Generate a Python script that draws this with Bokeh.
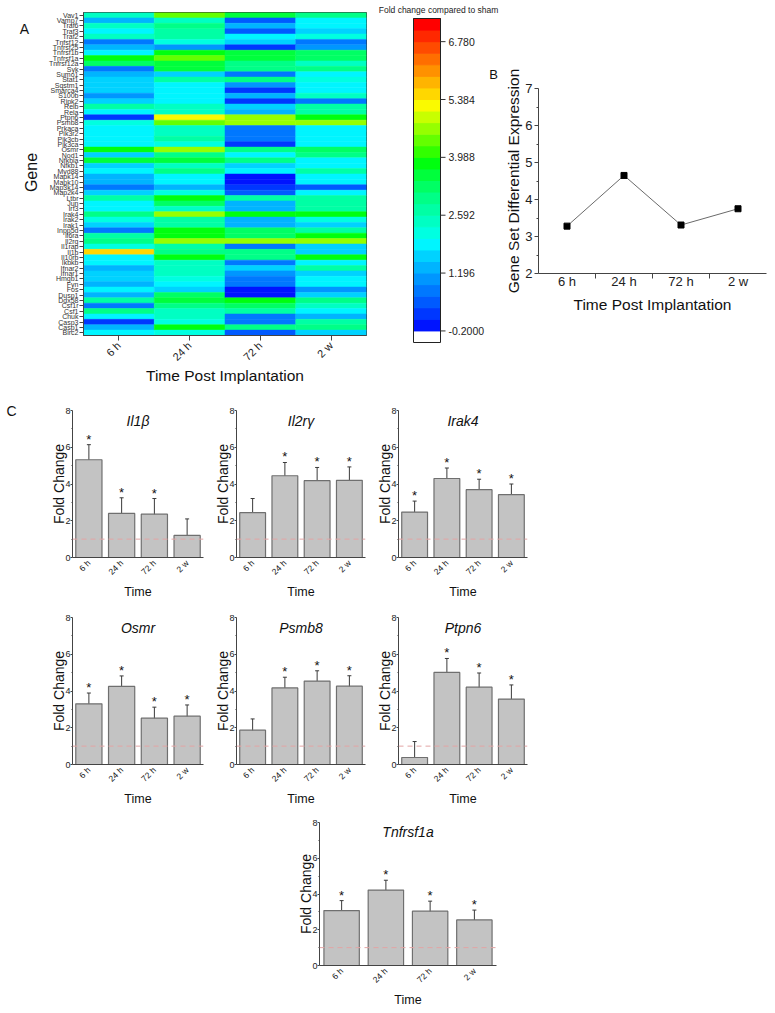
import math
from bokeh.plotting import figure
from bokeh.models import (FactorRange, LinearColorMapper, ColumnDataSource, Label, Span,
                          Whisker, TeeHead, FixedTicker, Range1d, Spacer)
from bokeh.transform import transform
from bokeh.layouts import row, column
from bokeh.embed import file_html
from bokeh.resources import INLINE
from bokeh.core.properties import value

FONT = "Liberation Sans"
NARROW = "Liberation Sans Narrow, Liberation Sans"

# ---------------- data ----------------
times = ["6 h", "24 h", "72 h", "2 w"]

genes = ["Vav1", "Vamp7", "Traf6", "Traf3", "Traf2", "Tnfsf12", "Tnfrsf25", "Tnfrsf1b", "Tnfrsf1a",
         "Tnfrsf12a", "Syk", "Sumo1", "Stat1", "Sqstm1", "Smarca4", "S100b", "Ripk2", "Relb", "Rela",
         "Ptpn6", "Psmb8", "Prkaca", "Pik3r2", "Pik3cb", "Pik3ca", "Osmr", "Nod1", "Nfkbia", "Nfkb1",
         "Myd88", "Mapk14", "Mapk10", "Map3k14", "Map2k4", "Ltbr", "Jun", "Irf3", "Irak4", "Irak2",
         "Irak1", "Inpp5d", "Il6ra", "Il2rg", "Il1rap", "Il1b", "Il10rb", "Ikbkb", "Ifnar2", "Ifnar1",
         "Hmgb1", "Fyn", "Fos", "Dusp1", "Ddx58", "Csf1r", "Csf1", "Chuk", "Casp3", "Casp1", "Birc2"]

hm_6h = [2.45, 1.34, 2.45, 1.89, 2.45, 0.78, 1.34, 1.89, 3.85, 3.29, 0.78, 1.34, 1.62, 1.62, 1.62, 1.06,
         1.62, 2.73, 1.89, 0.22, 2.17, 1.89, 1.89, 1.89, 1.89, 3.85, 1.62, 3.57, 1.62, 1.89, 1.34, 1.34,
         0.78, 1.62, 2.73, 1.89, 1.89, 3.01, 2.17, 1.62, 0.78, 2.73, 3.01, 2.17, 5.52, 1.89, 1.89, 1.34,
         1.62, 1.62, 1.34, 1.89, 1.34, 2.73, 0.78, 3.01, 1.89, 0.22, 1.34, 1.89]
hm_24h = [4.41, 2.45, 3.01, 2.73, 2.73, 2.17, 1.06, 3.85, 4.41, 3.57, 3.57, 1.62, 2.73, 1.89, 1.89, 1.89,
          1.89, 2.45, 2.45, 5.24, 4.41, 2.45, 2.45, 2.73, 2.17, 4.69, 3.01, 3.57, 2.45, 3.01, 1.89, 1.89,
          1.34, 2.17, 3.85, 3.29, 2.45, 4.69, 2.73, 2.73, 3.85, 3.85, 4.69, 2.73, 3.01, 3.85, 2.45, 2.45,
          2.45, 2.17, 1.89, 1.62, 3.29, 3.57, 3.01, 2.45, 2.45, 2.17, 3.85, 2.17]
hm_72h = [3.57, 0.50, 1.34, 0.50, 1.89, 1.62, 0.22, 3.57, 3.57, 3.01, 3.01, 0.78, 3.01, 1.06, 0.22, 1.34,
          0.22, 1.62, 1.34, 4.69, 4.69, 0.78, 0.78, 0.78, 0.22, 3.01, 1.89, 3.01, 1.62, 1.89, -0.06, -0.06,
          0.22, 0.50, 2.73, 1.34, 1.34, 3.85, 1.34, 1.34, 3.29, 3.29, 4.69, 0.78, 3.01, 3.01, 0.78, 1.62,
          1.06, 0.78, 0.78, -0.06, -0.06, 3.85, 3.29, 2.73, 0.78, 0.78, 3.01, 0.50]
hm_2w = [3.01, 1.89, 1.89, 1.62, 2.17, 0.78, 1.06, 3.29, 3.29, 2.45, 3.01, 1.89, 2.17, 1.89, 1.89, 2.45,
         0.78, 2.73, 2.73, 3.85, 4.69, 1.89, 1.89, 1.89, 1.89, 3.29, 3.01, 1.89, 1.89, 2.73, 1.89, 1.89,
         0.50, 1.89, 2.73, 2.73, 2.73, 3.85, 2.17, 1.62, 2.73, 3.85, 4.69, 1.62, 1.62, 3.85, 1.89, 2.73,
         1.62, 1.89, 1.89, 1.06, 1.62, 3.01, 2.45, 1.89, 1.34, 2.73, 3.01, 1.62]

cb_ticks = [-0.2, 1.196, 2.592, 3.988, 5.384, 6.780]
cb_labels = ["-0.2000", "1.196", "2.592", "3.988", "5.384", "6.780"]
palette = ["#0014ff", "#0037ff", "#005aff", "#0078ff", "#0096ff", "#00b4ff", "#00d2ff", "#00f5ff",
           "#00ffe1", "#00ffc3", "#00ffa5", "#00ff87", "#00ff64", "#00ff3c", "#00ff0f", "#32ff00",
           "#64ff00", "#96ff00", "#c8ff00", "#fafa00", "#ffd700", "#ffb400", "#ff9100", "#ff6e00",
           "#ff4b00", "#ff2800", "#ff0000"]

gsde = [3.28, 4.65, 3.31, 3.75]

bar_names = ["Il1\u03b2", "Il2r\u03b3", "Irak4", "Osmr", "Psmb8", "Ptpn6", "Tnfrsf1a"]
bar_means = [[5.32, 2.40, 2.36, 1.20],
             [2.44, 4.45, 4.18, 4.20],
             [2.47, 4.30, 3.69, 3.42],
             [3.30, 4.25, 2.52, 2.63],
             [1.87, 4.17, 4.54, 4.26],
             [0.38, 5.01, 4.21, 3.56],
             [3.07, 4.22, 3.04, 2.55]]
bar_errs = [[0.82, 0.85, 0.85, 0.90],
            [0.77, 0.72, 0.72, 0.73],
            [0.60, 0.57, 0.57, 0.58],
            [0.59, 0.57, 0.60, 0.61],
            [0.61, 0.58, 0.56, 0.57],
            [0.87, 0.76, 0.77, 0.77],
            [0.56, 0.55, 0.56, 0.55]]
bar_sig = [[1, 1, 1, 0],
           [0, 1, 1, 1],
           [1, 1, 1, 1],
           [1, 1, 1, 1],
           [0, 1, 1, 1],
           [0, 1, 1, 1],
           [1, 1, 1, 1]]
sham_level = 1.0


def style_axes(p, tick_size="10px", tick_font=FONT):
    for ax in p.axis:
        ax.major_label_text_font = tick_font
        ax.axis_label_text_font = FONT
        ax.axis_label_text_font_style = "normal"
        ax.major_label_text_font_size = tick_size
        ax.major_label_text_color = "#222222"
        ax.axis_label_text_color = "#111111"
        ax.axis_line_color = "#444444"
        ax.major_tick_line_color = "#444444"
        ax.minor_tick_line_color = "#444444"
    p.xgrid.grid_line_color = None
    p.ygrid.grid_line_color = None


def text_fig(width, height):
    """A bare figure used only to carry free text (panel letters etc.)."""
    p = figure(width=width, height=height, x_range=Range1d(0, width), y_range=Range1d(height, 0),
               output_backend="svg", toolbar_location=None, x_axis_location=None,
               y_axis_location=None, min_border_left=0, min_border_right=0, min_border_top=0,
               min_border_bottom=0, frame_align=False)
    p.outline_line_color = None
    p.xgrid.visible = False
    p.ygrid.visible = False
    return p


# ---------------- left text column of panel A ----------------
tA = text_fig(42, 390)
tA.add_layout(Label(x=24, y=28, text="A", text_font=FONT, text_font_size="14px", text_color="#111111",
                    text_align="center", text_baseline="middle"))
tA.add_layout(Label(x=31, y=172, text="Gene", text_font=FONT, text_font_size="16px",
                    text_color="#111111", angle=math.pi / 2, text_align="center",
                    text_baseline="middle"))

# ---------------- panel A: heatmap ----------------
hm_cols = {"6 h": hm_6h, "24 h": hm_24h, "72 h": hm_72h, "2 w": hm_2w}
hm_src = ColumnDataSource(dict(
    gene=[g for t in times for g in genes],
    time=[t for t in times for _ in genes],
    val=[v for t in times for v in hm_cols[t]],
))
step = (cb_ticks[1] - cb_ticks[0]) / 5
cb_low = cb_ticks[0]
cb_high = cb_low + len(palette) * step
mapper = LinearColorMapper(palette=palette, low=cb_low, high=cb_high)

pA = figure(width=333, height=390, x_range=FactorRange(factors=times),
            y_range=FactorRange(factors=genes[::-1]), output_backend="svg",
            toolbar_location=None, min_border_left=41, min_border_right=9,
            min_border_top=12, min_border_bottom=55, frame_align=False)
pA.rect(x="time", y="gene", width=1, height=1, source=hm_src,
        fill_color=transform("val", mapper), line_color=transform("val", mapper), line_width=0.5)
pA.outline_line_color = "#333333"
style_axes(pA)
pA.yaxis.major_label_text_font = NARROW
pA.yaxis.major_label_text_font_size = "7px"
pA.yaxis.major_label_text_color = "#333333"
pA.yaxis.major_tick_out = 4
pA.yaxis.major_tick_in = 0
pA.yaxis.major_label_standoff = 1
pA.xaxis.axis_label = "Time Post Implantation"
pA.xaxis.axis_label_text_font_size = "15.5px"
pA.xaxis.major_label_text_font_size = "11px"
pA.xaxis.major_label_orientation = math.pi / 4
pA.xaxis.major_tick_out = 5
pA.xaxis.major_tick_in = 0
pA.xaxis.major_label_standoff = 3
pA.xaxis.axis_label_standoff = -3

# ---------------- colour bar (drawn as its own small plot) ----------------
CB_W, CB_H = 125, 390          # canvas
CB_L, CB_BAR = 38, 27          # bar left offset / bar width (px)
CB_TOP, CB_BOT = 18, 342       # bar top / bottom (px)
cb_bottom_all = cb_low - step  # white "below range" box
u_per_px = (cb_high - cb_bottom_all) / (CB_BOT - CB_TOP)
cb_y_end = cb_high + CB_TOP * u_per_px
cb_y_start = cb_bottom_all - (CB_H - CB_BOT) * u_per_px
pCB = figure(width=CB_W, height=CB_H,
             x_range=Range1d(-CB_L / CB_BAR, 1 + (CB_W - CB_L - CB_BAR) / CB_BAR),
             y_range=Range1d(cb_y_start, cb_y_end), output_backend="svg", toolbar_location=None,
             x_axis_location=None, y_axis_location=None, min_border_left=0, min_border_right=0,
             min_border_top=0, min_border_bottom=0, frame_align=False)
pCB.outline_line_color = None
pCB.xgrid.visible = False
pCB.ygrid.visible = False
cb_src = ColumnDataSource(dict(
    bottom=[cb_low + i * step for i in range(len(palette))],
    top=[cb_low + (i + 1) * step for i in range(len(palette))],
    color=palette,
))
pCB.quad(left=0, right=1, bottom="bottom", top="top", color="color", source=cb_src)
pCB.quad(left=0, right=1, bottom=cb_bottom_all, top=cb_high, fill_color=None,
         line_color="#222222", line_width=1)
pCB.segment(x0=[1] * len(cb_ticks), y0=cb_ticks, x1=[1 + 5 / CB_BAR] * len(cb_ticks), y1=cb_ticks,
            line_color="#333333", line_width=1)
pCB.text(x=[1 + 8 / CB_BAR] * len(cb_ticks), y=cb_ticks, text=cb_labels, text_font=value(FONT),
         text_font_size="10.5px", text_baseline="middle", text_align="left", text_color="#222222")
pCB.text(x=[(438 - 413) / CB_BAR], y=[cb_y_end - 9 * u_per_px], text=["Fold change compared to sham"],
         text_font=value(FONT), text_font_size="8.5px", text_baseline="middle", text_align="center",
         text_color="#222222")
pCB.text(x=[(493 - 413) / CB_BAR], y=[cb_y_end - 74 * u_per_px], text=["B"], text_font=value(FONT),
         text_font_size="13px", text_baseline="middle", text_align="center", text_color="#111111")

# ---------------- panel B ----------------
xpos = list(range(1, len(times) + 1))
pB = figure(width=275, height=390, x_range=Range1d(0.5, len(times) + 0.5), y_range=Range1d(2, 7),
            output_backend="svg", toolbar_location=None, frame_align=False,
            min_border_left=38, min_border_right=9, min_border_top=88, min_border_bottom=117)
pB.line(xpos, gsde, line_color="#6a6a6a", line_width=1)
pB.scatter(xpos, gsde, marker="square", size=6, fill_color="black", line_color="black")
pB.outline_line_color = None
style_axes(pB, "13px")
pB.xaxis.ticker = FixedTicker(ticks=xpos, minor_ticks=[x + 0.5 for x in xpos[:-1]])
pB.xaxis.major_label_overrides = {x: t for x, t in zip(xpos, times)}
pB.xaxis.major_tick_out = 0
pB.xaxis.major_tick_in = 0
pB.xaxis.minor_tick_out = 5
pB.xaxis.minor_tick_in = 0
pB.xaxis.major_label_standoff = -5
pB.xaxis.axis_label = "Time Post Implantation"
pB.xaxis.axis_label_text_font_size = "15.5px"
pB.xaxis.axis_label_standoff = 4
pB.yaxis.ticker = FixedTicker(ticks=[2, 3, 4, 5, 6, 7], minor_ticks=[2.5, 3.5, 4.5, 5.5, 6.5])
pB.yaxis.major_tick_out = 4
pB.yaxis.major_tick_in = 0
pB.yaxis.minor_tick_out = 2
pB.yaxis.minor_tick_in = 0
pB.yaxis.major_label_standoff = 2
pB.yaxis.axis_label = "Gene Set Differential Expression"
pB.yaxis.axis_label_text_font_size = "15.5px"
pB.yaxis.axis_label_standoff = 0


# ---------------- panel C: bar charts ----------------
def bar_panel(i, width, left, right, height, top, bottom):
    means, errs, sig = bar_means[i], bar_errs[i], bar_sig[i]
    src = ColumnDataSource(dict(t=times, m=means, up=[m + e for m, e in zip(means, errs)],
                                lo=[m - e for m, e in zip(means, errs)]))
    p = figure(width=width, height=height, x_range=FactorRange(factors=times), y_range=Range1d(0, 8),
               output_backend="svg", toolbar_location=None, min_border_left=left,
               min_border_right=right, min_border_top=top, min_border_bottom=bottom,
               frame_align=False)
    p.vbar(x="t", top="m", width=0.8, source=src, fill_color="#c3c3c3", line_color="#6f6f6f",
           line_width=1.2)
    p.add_layout(Whisker(source=src, base="t", upper="up", lower="lo", line_color="#3a3a3a",
                         line_width=1,
                         upper_head=TeeHead(size=4, line_color="#3a3a3a", line_width=1),
                         lower_head=TeeHead(size=4, line_color="#3a3a3a", line_width=1)))
    p.add_layout(Span(location=sham_level, dimension="width", line_color="#e2a4a4",
                      line_dash="5 4", line_width=1))
    st = [(t, m + e + 0.3) for t, m, e, s in zip(times, means, errs, sig) if s]
    p.text(x=[a for a, _ in st], y=[b for _, b in st], text=["*"] * len(st), text_font=value(FONT),
           text_font_size="13px", text_align="center", text_baseline="middle", text_color="#111111")
    p.add_layout(Label(x=len(times) / 2, y=7.45, text=bar_names[i], text_font=FONT,
                       text_font_size="14px", text_font_style="italic", text_align="center",
                       text_baseline="middle", text_color="#111111"))
    p.outline_line_color = None
    style_axes(p, "9px", NARROW)
    p.yaxis.ticker = FixedTicker(ticks=[0, 2, 4, 6, 8], minor_ticks=[1, 3, 5, 7])
    p.yaxis.major_tick_out = 2
    p.yaxis.major_tick_in = 0
    p.yaxis.minor_tick_out = 1
    p.yaxis.minor_tick_in = 0
    p.yaxis.major_label_standoff = 0
    p.yaxis.axis_label = "Fold Change"
    p.yaxis.axis_label_text_font_size = "14px"
    p.yaxis.axis_label_standoff = -5
    p.xaxis.major_label_orientation = math.pi / 4
    p.xaxis.major_label_text_font_size = "8.5px"
    p.xaxis.major_label_text_color = "#111111"
    p.xaxis.major_tick_line_color = None
    p.xaxis.major_tick_out = 0
    p.xaxis.major_tick_in = 0
    p.xaxis.major_label_standoff = 4
    p.xaxis.axis_label = "Time"
    p.xaxis.axis_label_text_font = NARROW
    p.xaxis.axis_label_text_font_size = "12.5px"
    p.xaxis.axis_label_standoff = 2
    return p


tC = text_fig(20, 215)
tC.add_layout(Label(x=11, y=20, text="C", text_font=FONT, text_font_size="14px", text_color="#111111",
                    text_align="center", text_baseline="middle"))
c1 = bar_panel(0, 192, 52, 9, 215, 20, 48)
c2 = bar_panel(1, 162, 22, 9, 215, 20, 48)
c3 = bar_panel(2, 162, 22, 9, 215, 20, 48)
c4 = bar_panel(3, 192, 52, 9, 205, 12, 46)
c5 = bar_panel(4, 162, 22, 9, 205, 12, 46)
c6 = bar_panel(5, 162, 22, 9, 205, 12, 46)
c7 = bar_panel(6, 241, 56, 8, 200, 12, 41)

layout = column(
    row(tA, pA, pCB, pB),
    row(tC, c1, c2, c3),
    row(Spacer(width=20, height=205), c4, c5, c6),
    row(Spacer(width=263, height=200), c7),
)

open("out.html", "w").write(file_html(layout, INLINE))
